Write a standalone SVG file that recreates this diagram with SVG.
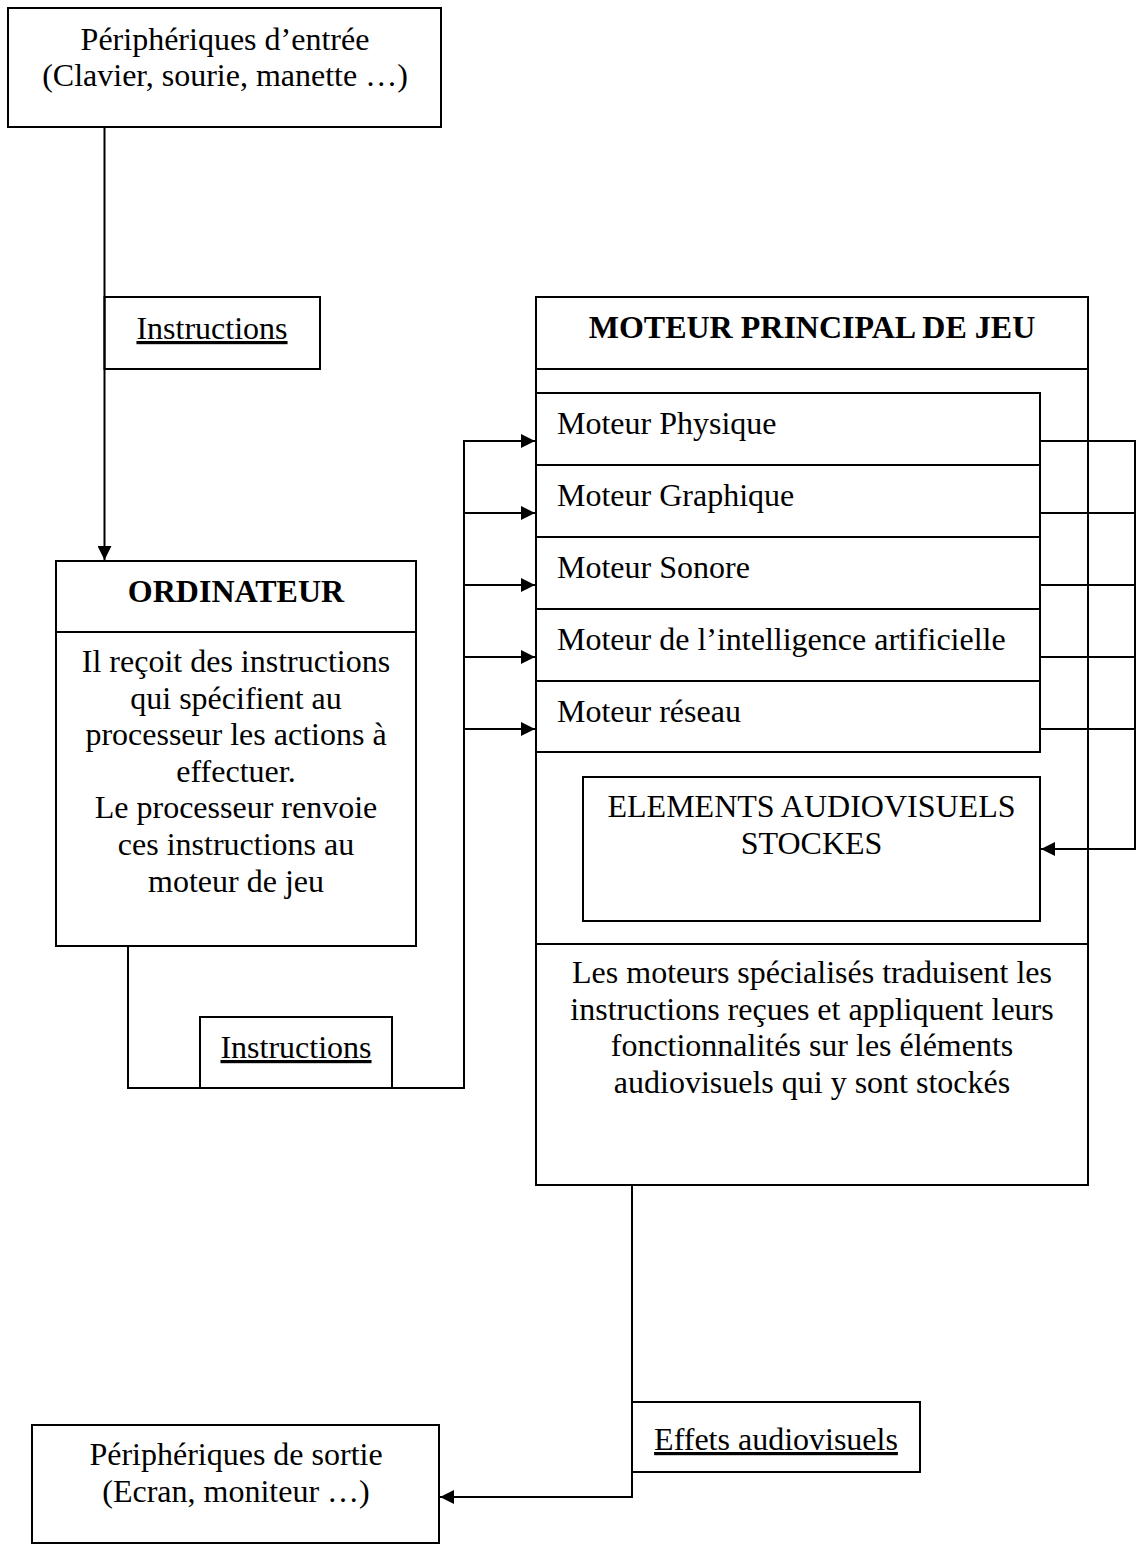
<svg xmlns="http://www.w3.org/2000/svg" width="1136" height="1552" viewBox="0 0 1136 1552">
<style>
.box{fill:#fff;stroke:#000;stroke-width:2}
.ln{fill:none;stroke:#000;stroke-width:2}
.t{font-family:"Liberation Serif","Times New Roman",serif;font-size:32px;fill:#000}
.c{text-anchor:middle}
.b{font-weight:bold}
.u{text-decoration:underline}
</style>
<defs>
<marker id="ah" viewBox="0 0 10 10" refX="10" refY="5" markerUnits="userSpaceOnUse" markerWidth="15" markerHeight="14" orient="auto">
<path d="M0,0 L10,5 L0,10 z" fill="#000"/>
</marker>
</defs>
<rect width="1136" height="1552" fill="#fff"/>

<g id="entree">
<rect class="box" x="8" y="8" width="433" height="119"/>
<text class="t c" x="225" y="50">Périphériques d’entrée</text>
<text class="t c" x="225" y="86">(Clavier, sourie, manette …)</text>
</g>

<g id="label-instructions-1">
<rect class="box" x="104.5" y="297" width="215.5" height="72"/>
<text class="t c u" x="212" y="339">Instructions</text>
</g>

<g id="ordinateur">
<rect class="box" x="56" y="561" width="360" height="385"/>
<line class="ln" x1="56" y1="632" x2="416" y2="632"/>
<text class="t c b" x="236" y="602">ORDINATEUR</text>
<text class="t c" x="236" y="672">Il reçoit des instructions</text>
<text class="t c" x="236" y="708.5">qui spécifient au</text>
<text class="t c" x="236" y="745">processeur les actions à</text>
<text class="t c" x="236" y="781.5">effectuer.</text>
<text class="t c" x="236" y="818">Le processeur renvoie</text>
<text class="t c" x="236" y="855">ces instructions au</text>
<text class="t c" x="236" y="891.5">moteur de jeu</text>
</g>

<g id="label-instructions-2">
<rect class="box" x="200" y="1017" width="192" height="71"/>
<text class="t c u" x="296" y="1058">Instructions</text>
</g>

<g id="moteur-principal">
<rect class="box" x="536" y="297" width="552" height="888"/>
<line class="ln" x1="536" y1="369" x2="1088" y2="369"/>
<text class="t c b" x="812" y="338">MOTEUR PRINCIPAL DE JEU</text>
<line class="ln" x1="536" y1="944" x2="1088" y2="944"/>
<text class="t c" x="812" y="983">Les moteurs spécialisés traduisent les</text>
<text class="t c" x="812" y="1020">instructions reçues et appliquent leurs</text>
<text class="t c" x="812" y="1056">fonctionnalités sur les éléments</text>
<text class="t c" x="812" y="1093">audiovisuels qui y sont stockés</text>
</g>

<g id="moteur-physique">
<rect class="box" x="536" y="393" width="504" height="72"/>
<text class="t" x="557" y="434">Moteur Physique</text>
</g>
<g id="moteur-graphique">
<rect class="box" x="536" y="465" width="504" height="72"/>
<text class="t" x="557" y="506">Moteur Graphique</text>
</g>
<g id="moteur-sonore">
<rect class="box" x="536" y="537" width="504" height="72"/>
<text class="t" x="557" y="578">Moteur Sonore</text>
</g>
<g id="moteur-ia">
<rect class="box" x="536" y="609" width="504" height="72"/>
<text class="t" x="557" y="650">Moteur de l’intelligence artificielle</text>
</g>
<g id="moteur-reseau">
<rect class="box" x="536" y="681" width="504" height="71"/>
<text class="t" x="557" y="722">Moteur réseau</text>
</g>

<g id="elements">
<rect class="box" x="583" y="777" width="457" height="144"/>
<text class="t c" x="811.5" y="817">ELEMENTS AUDIOVISUELS</text>
<text class="t c" x="811.5" y="854">STOCKES</text>
</g>

<g id="label-effets">
<rect class="box" x="632" y="1402" width="288" height="70"/>
<text class="t c u" x="776" y="1450">Effets audiovisuels</text>
</g>

<g id="sortie">
<rect class="box" x="32" y="1425" width="407" height="118"/>
<text class="t c" x="236" y="1465">Périphériques de sortie</text>
<text class="t c" x="236" y="1502">(Ecran, moniteur …)</text>
</g>

<g id="connectors">
<path class="ln" d="M104.5,127 V560" marker-end="url(#ah)"/>
<path class="ln" d="M128,946 V1088 H464 V441 H535" marker-end="url(#ah)"/>
<path class="ln" d="M464,513 H535" marker-end="url(#ah)"/>
<path class="ln" d="M464,585 H535" marker-end="url(#ah)"/>
<path class="ln" d="M464,657 H535" marker-end="url(#ah)"/>
<path class="ln" d="M464,729 H535" marker-end="url(#ah)"/>
<path class="ln" d="M1040,441 H1135 V849 H1041" marker-end="url(#ah)"/>
<path class="ln" d="M1040,513 H1135"/>
<path class="ln" d="M1040,585 H1135"/>
<path class="ln" d="M1040,657 H1135"/>
<path class="ln" d="M1040,729 H1135"/>
<path class="ln" d="M632,1185 V1497 H440" marker-end="url(#ah)"/>
</g>
</svg>
